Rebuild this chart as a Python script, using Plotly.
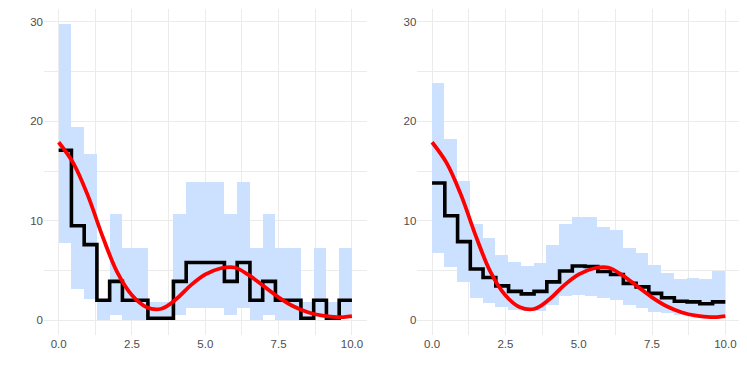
import plotly.graph_objects as go
from plotly.subplots import make_subplots

# bin edges shared by both panels
edges = [0, 0.435, 0.87, 1.304, 1.739, 2.174, 2.609, 3.043, 3.478, 3.913, 4.348, 4.783,
         5.217, 5.652, 6.087, 6.522, 6.957, 7.391, 7.826, 8.261, 8.696, 9.13, 9.565, 10]

# left panel
left_mid = [17.1, 9.5, 7.6, 2.0, 3.9, 2.0, 2.0, 0.2, 0.2, 3.9, 5.8, 5.8, 5.8, 3.9, 5.8,
            2.0, 3.9, 2.0, 2.0, 0.2, 2.0, 0.2, 2.0]
left_upper = [29.8, 19.4, 16.7, 2.1, 10.7, 7.3, 7.3, 1.8, 1.8, 10.7, 13.85, 13.85, 13.85,
              10.7, 13.85, 7.3, 10.7, 7.3, 7.3, 1.8, 7.3, 1.8, 7.3]
left_lower = [7.8, 3.1, 2.1, 0, 0.5, 0, 0, 0, 0, 0.5, 1.2, 1.2, 1.2, 0.5, 1.2, 0, 0.5,
              0, 0, 0, 0.5, 0, 0.5]

# right panel
right_mid = [13.8, 10.5, 7.9, 5.15, 4.3, 3.45, 2.9, 2.65, 2.9, 3.85, 4.95, 5.45, 5.4,
             4.9, 4.6, 3.7, 3.35, 2.7, 2.25, 1.9, 1.84, 1.66, 1.84]
right_upper = [23.9, 18.2, 14.0, 9.65, 8.3, 6.6, 5.87, 5.43, 5.75, 7.55, 9.63, 10.37,
               10.37, 9.36, 9.03, 7.28, 6.74, 5.6, 4.76, 4.16, 4.26, 4.19, 4.93]
right_lower = [6.8, 5.4, 3.8, 2.2, 1.75, 1.3, 1.05, 0.95, 0.9, 1.57, 2.4, 2.5, 2.47,
               2.24, 2.0, 1.5, 1.24, 0.84, 0.7, 0.57, 0.4, 0.3, 0.3]

# true curve (same in both panels)
curve_x = [0, 0.5, 1, 1.5, 2, 2.5, 3, 3.5, 4, 4.5, 5, 5.5, 6, 6.5, 7, 7.5, 8, 8.5, 9,
           9.5, 10]
curve_y = [17.9, 15.8, 12.5, 8.4, 4.8, 2.5, 1.3, 1.15, 2.1, 3.5, 4.6, 5.2, 5.3, 4.5,
           3.4, 2.3, 1.4, 0.8, 0.45, 0.3, 0.42]

fig = make_subplots(rows=1, cols=2, horizontal_spacing=0.073)

centers = [(a + b) / 2 for a, b in zip(edges[:-1], edges[1:])]
widths = [b - a for a, b in zip(edges[:-1], edges[1:])]

for col, mid, up, lo in [(1, left_mid, left_upper, left_lower),
                         (2, right_mid, right_upper, right_lower)]:
    # ---------------- ribbon ----------------
    fig.add_trace(
        go.Bar(
            x=centers,
            y=[u - l for u, l in zip(up, lo)],
            base=lo,
            width=widths,
            marker=dict(color="#cce0ff", line=dict(width=0)),
            showlegend=False,
        ),
        row=1, col=col,
    )
    # ---------------- step ----------------
    fig.add_trace(
        go.Scatter(
            x=edges,
            y=mid + [mid[-1]],
            mode="lines",
            line=dict(color="black", width=3.6, shape="hv"),
            showlegend=False,
        ),
        row=1, col=col,
    )
    # ---------------- curve ----------------
    fig.add_trace(
        go.Scatter(
            x=curve_x,
            y=curve_y,
            mode="lines",
            line=dict(color="red", width=3.8, shape="spline", smoothing=1.0),
            showlegend=False,
        ),
        row=1, col=col,
    )

# page body has an 8px margin, so the figure is shrunk to fit the window
fig.update_layout(
    width=739,
    height=366,
    margin=dict(l=35.6, r=7.1, t=1, b=39.4),
    plot_bgcolor="white",
    paper_bgcolor="white",
    bargap=0,
    font=dict(family="Liberation Sans, Arial, sans-serif", size=11.5, color="#4d4d4d"),
)

fig.update_xaxes(
    range=[-0.5, 10.5],
    tickmode="array",
    tickvals=[0, 2.5, 5, 7.5, 10],
    ticktext=["0.0", "2.5", "5.0", "7.5", "10.0"],
    showgrid=True,
    gridcolor="#ebebeb",
    gridwidth=1.1,
    minor=dict(tickvals=[1.25, 3.75, 6.25, 8.75], showgrid=True,
               gridcolor="#ebebeb", gridwidth=0.6),
    zeroline=False,
    showline=False,
    ticks="",
)
fig.update_yaxes(
    range=[-1.49, 31.3],
    tickmode="array",
    tickvals=[0, 10, 20, 30],
    showgrid=True,
    gridcolor="#ebebeb",
    gridwidth=1.1,
    minor=dict(tickvals=[5, 15, 25], showgrid=True, gridcolor="#ebebeb", gridwidth=0.6),
    zeroline=False,
    showline=False,
    ticks="",
)

fig.write_html("out.html")
